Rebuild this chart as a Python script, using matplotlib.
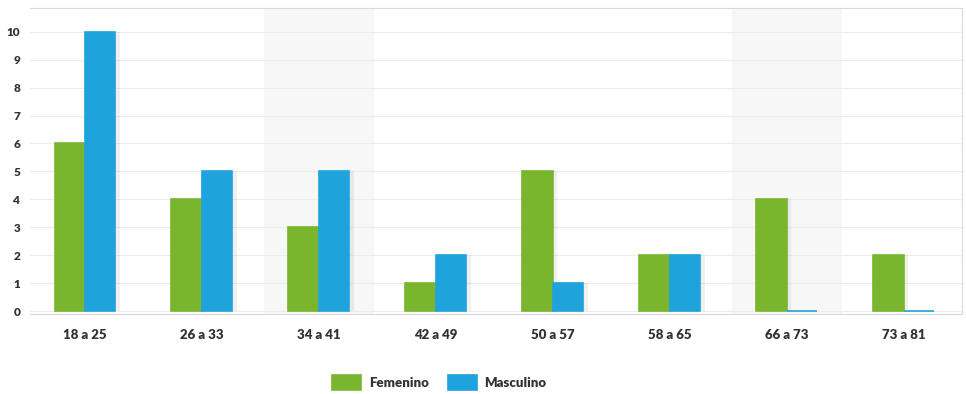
import numpy as np
import matplotlib.pyplot as plt

rangos = ['18 a 25', '26 a 33', '34 a 41', '42 a 49', '50 a 57', '58 a 65', '66 a 73', '73 a 81']
femenino = [6, 4, 3, 1, 5, 2, 4, 2]
masculino = [10, 5, 5, 2, 1, 2, 0, 0]

verde = '#7ab52e'
azul = '#1fa3dc'

plt.rcParams['font.family'] = ['Lato', 'DejaVu Sans']

fig = plt.figure(figsize=(9.66, 3.94), dpi=100)
ax = fig.add_axes([0.031, 0.2035, 0.965, 0.7762])

x = np.arange(len(rangos))
w = 0.26

# franjas de fondo suaves
for i in (2, 6):
    ax.axvspan(i - 0.47, i + 0.47, color='#f7f7f7', zorder=0, lw=0)

# sombra a la derecha de cada barra
ax.bar(x - w / 2 + 0.04, femenino, w, color='#000000', alpha=0.06, zorder=1, lw=0)
ax.bar(x + w / 2 + 0.04, masculino, w, color='#000000', alpha=0.06, zorder=1, lw=0)

b1 = ax.bar(x - w / 2, femenino, w, color=verde, edgecolor=verde, lw=1.2,
            label='Femenino', zorder=2)
b2 = ax.bar(x + w / 2, masculino, w, color=azul, edgecolor=azul, lw=1.2,
            label='Masculino', zorder=2)

ax.set_xlim(-0.47, 7.5)
ax.set_ylim(-0.1, 10.85)
ax.set_yticks(range(0, 11))
ax.set_xticks(x)
ax.set_xticklabels(rangos)
ax.grid(axis='y', color='#ececec', lw=0.8, zorder=0)
ax.set_axisbelow(True)

for s in ('top', 'right', 'bottom'):
    ax.spines[s].set_color('#d9d9d9')
ax.spines['left'].set_visible(False)

ax.tick_params(axis='x', length=0, pad=11, labelsize=9.5, labelcolor='#333333')
ax.tick_params(axis='y', length=0, pad=7, labelsize=8.5, labelcolor='#333333')
for t in ax.get_xticklabels() + ax.get_yticklabels():
    t.set_fontweight('heavy')

leg = fig.legend(handles=[b1, b2], loc='center', bbox_to_anchor=(0.455, 0.03),
                 ncol=2, frameon=False, fontsize=9.5, handlelength=2.2,
                 handleheight=1.4, columnspacing=1.4, handletextpad=0.6)
for t in leg.get_texts():
    t.set_fontweight('heavy')
    t.set_color('#333333')

fig.savefig('out.png', dpi=100, facecolor='white')
